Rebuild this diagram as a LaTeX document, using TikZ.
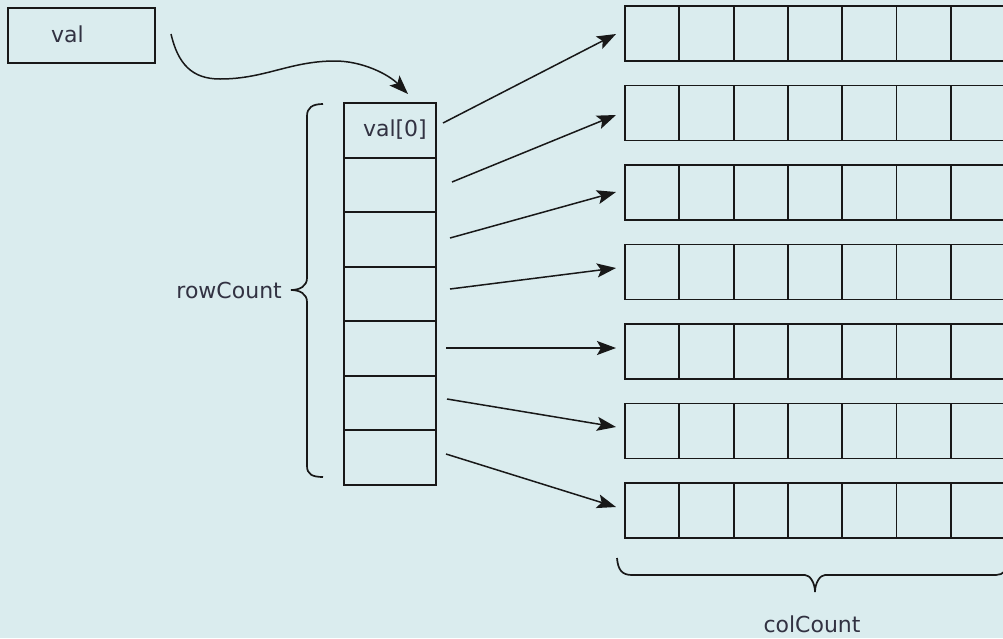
\documentclass[tikz,border=0pt]{standalone}
\usepackage{fontspec}
\setmainfont{DejaVu Sans}
\usetikzlibrary{arrows.meta,calc}
\definecolor{bg}{RGB}{218,236,238}
\definecolor{ink}{RGB}{24,24,24}
\definecolor{txtc}{RGB}{50,50,66}
\begin{document}
\begin{tikzpicture}[x=1pt,y=-1pt,
  cellbox/.style={draw=ink,line width=1.9pt,inner sep=0pt,outer sep=0pt},
  lbl/.style={text=txtc,font=\fontsize{22}{26}\selectfont,inner sep=0pt},
  arr/.style={draw=ink,line width=1.5pt,-{Stealth[length=19pt,width=14pt,inset=4pt]}},
  bracepath/.style={draw=ink,line width=1.7pt}]
\useasboundingbox (0,0) rectangle (1003,638);
\clip (0,0) rectangle (1003,638);
\fill[bg] (0,0) rectangle (1003,638);

% val box
\node[cellbox,minimum width=147pt,minimum height=55pt] (val) at (81.5,35.5) {};
\node[lbl,anchor=base west] (valtxt) at (51,42) {val};

% column array
\foreach \i in {1,...,7}{
  \node[cellbox,minimum width=92pt,minimum height=54.57pt] (c\i) at (390,{103+54.57*(\i-0.5)}) {};
}
\node[lbl,anchor=base east] (v0) at (427,136) {val[0]};

% row arrays
\foreach \r in {1,...,7}{
  \foreach \c in {1,...,7}{
    \node[cellbox,minimum width=54.3pt,minimum height=55pt] (r\r-\c) at ({625+54.3*(\c-0.5)},{33.5+79.5*(\r-1)}) {};
  }
}

% curved pointer
\coordinate (p0) at (171,34);
\coordinate (p1) at (408,94);
\draw[arr] (p0) .. controls (178,64) and (192,79) .. (220,79)
  .. controls (265,79) and (290,61) .. (335,61)
  .. controls (362,61) and (388,74) .. (p1);

% row pointers
\foreach \i/\sx/\sy/\d in {1/443/123/-0.5, 2/452/182/-2, 3/450/238/0.5, 4/450/289/4, 5/446/348/3.5, 6/447/399/4, 7/446/454/3.5}{
  \coordinate (s\i) at (\sx,\sy);
  \draw[arr] (s\i) -- ([xshift=-9pt,yshift=\d pt]r\i-1.west);
}

% left brace
\draw[bracepath] (323,104) .. controls (312,104) and (307,108) .. (307,116) -- (307,278)
  .. controls (307,286) and (300,290) .. (291,290)
  .. controls (300,290) and (307,294) .. (307,302) -- (307,466)
  .. controls (307,474) and (312,477) .. (323,477);
\node[lbl,anchor=base east] (rc) at (282,298) {rowCount};

% bottom brace
\draw[bracepath] (617,558) .. controls (618,570) and (622,575) .. (632,575) -- (805,575)
  .. controls (810,575) and (815,583) .. (815,592)
  .. controls (815,583) and (820,575) .. (825,575) -- (996,575)
  .. controls (1003,575) and (1008,570) .. (1010,560);
\node[lbl,anchor=base] (cc) at (812,632) {colCount};
\end{tikzpicture}
\end{document}
